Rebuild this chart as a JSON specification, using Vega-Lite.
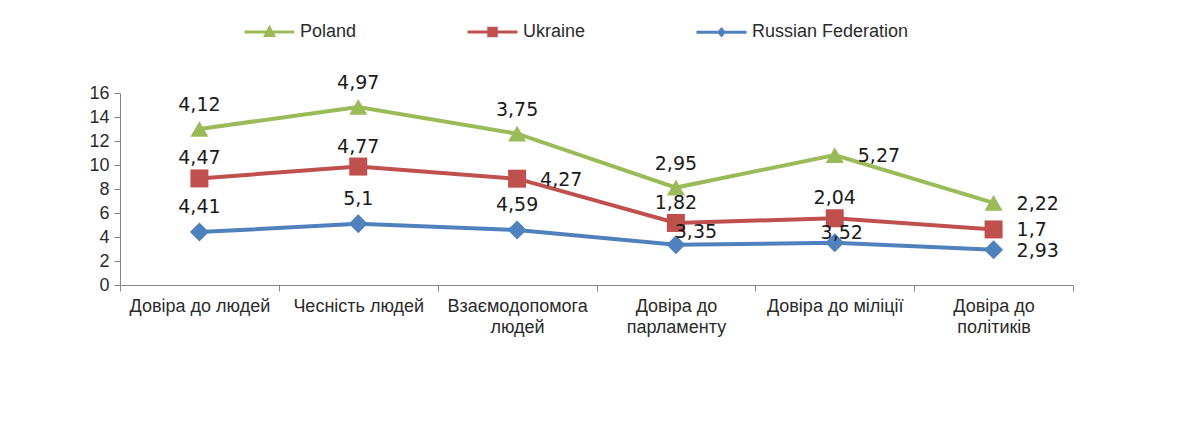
{
  "$schema": "https://vega.github.io/schema/vega-lite/v6.json",
  "autosize": "none",
  "width": 953,
  "height": 192,
  "padding": {"left": 120, "top": 93, "right": 128, "bottom": 158},
  "background": "white",
  "config": {
    "view": {"stroke": null},
    "locale": {"number": {"decimal": ",", "thousands": " ", "grouping": [3], "currency": ["", ""]}},
    "axis": {"labelFont": "Liberation Sans", "labelFontSize": 18, "labelFontWeight": "normal", "labelColor": "#2b2b2b", "domainColor": "#868686", "tickColor": "#868686", "tickSize": 6, "grid": false, "title": null}
  },
  "data": {"values": [
    {"cat": "Довіра до людей", "series": "Russian Federation", "value": 4.41},
    {"cat": "Чесність людей", "series": "Russian Federation", "value": 5.1},
    {"cat": "Взаємодопомога людей", "series": "Russian Federation", "value": 4.59},
    {"cat": "Довіра до парламенту", "series": "Russian Federation", "value": 3.35},
    {"cat": "Довіра до міліції", "series": "Russian Federation", "value": 3.52},
    {"cat": "Довіра до політиків", "series": "Russian Federation", "value": 2.93},
    {"cat": "Довіра до людей", "series": "Ukraine", "value": 4.47},
    {"cat": "Чесність людей", "series": "Ukraine", "value": 4.77},
    {"cat": "Взаємодопомога людей", "series": "Ukraine", "value": 4.27},
    {"cat": "Довіра до парламенту", "series": "Ukraine", "value": 1.82},
    {"cat": "Довіра до міліції", "series": "Ukraine", "value": 2.04},
    {"cat": "Довіра до політиків", "series": "Ukraine", "value": 1.7},
    {"cat": "Довіра до людей", "series": "Poland", "value": 4.12},
    {"cat": "Чесність людей", "series": "Poland", "value": 4.97},
    {"cat": "Взаємодопомога людей", "series": "Poland", "value": 3.75},
    {"cat": "Довіра до парламенту", "series": "Poland", "value": 2.95},
    {"cat": "Довіра до міліції", "series": "Poland", "value": 5.27},
    {"cat": "Довіра до політиків", "series": "Poland", "value": 2.22}
  ]},
  "transform": [
    {"stack": "value", "groupby": ["cat"], "as": ["y0", "y1"]}
  ],
  "encoding": {
    "x": {
      "field": "cat", "type": "nominal",
      "scale": {"type": "band", "paddingInner": 0, "paddingOuter": 0, "domain": ["Довіра до людей", "Чесність людей", "Взаємодопомога людей", "Довіра до парламенту", "Довіра до міліції", "Довіра до політиків"]},
      "axis": {"labelAngle": 0, "tickBand": "extent", "labelPadding": 6, "labelLineHeight": 21, "labelBaseline": "top", "labelLimit": 300,
        "labelExpr": "datum.label == 'Взаємодопомога людей' ? ['Взаємодопомога', 'людей'] : datum.label == 'Довіра до парламенту' ? ['Довіра до', 'парламенту'] : datum.label == 'Довіра до політиків' ? ['Довіра до', 'політиків'] : datum.label"}
    },
    "y": {
      "field": "y1", "type": "quantitative",
      "scale": {"domain": [0, 16], "nice": false, "zero": true},
      "axis": {"values": [0, 2, 4, 6, 8, 10, 12, 14, 16], "labelPadding": 5}
    },
    "color": {
      "field": "series", "type": "nominal",
      "scale": {"domain": ["Poland", "Ukraine", "Russian Federation"], "range": ["#9BBB59", "#C0504D", "#4F81BD"]},
      "legend": {
        "orient": "none", "legendX": 123, "legendY": -88, "direction": "horizontal", "columns": 3,
        "title": null, "columnPadding": 104, "labelFont": "Liberation Sans", "labelFontSize": 18, "labelFontWeight": "normal", "labelColor": "#2b2b2b",
        "labelOffset": 4, "symbolSize": 2500, "symbolStrokeWidth": 3,
        "encode": {"symbols": {"update": {
          "shape": {"signal": "datum.value == 'Poland' ? 'M-1,0H1M-0.16,0.14L0,-0.16L0.16,0.14Z' : datum.value == 'Ukraine' ? 'M-1,0H1M-0.15,-0.15H0.15V0.15H-0.15Z' : 'M-1,0H1M0,-0.12L0.1,0L0,0.12L-0.1,0Z'"},
          "size": {"value": 2500},
          "fill": {"scale": "color", "field": "value"},
          "stroke": {"scale": "color", "field": "value"},
          "strokeWidth": {"value": 3},
          "opacity": {"value": 1}
        }}}
      }
    }
  },
  "layer": [
    {"mark": {"type": "line", "strokeWidth": 4}, "encoding": {"detail": {"field": "series"}}},
    {"transform": [{"filter": {"field": "series", "equal": "Poland"}}],
     "mark": {"type": "point", "filled": true, "opacity": 1, "shape": "triangle-up", "size": 330}},
    {"transform": [{"filter": {"field": "series", "equal": "Ukraine"}}],
     "mark": {"type": "point", "filled": true, "opacity": 1, "shape": "square", "size": 324}},
    {"transform": [{"filter": {"field": "series", "equal": "Russian Federation"}}],
     "mark": {"type": "point", "filled": true, "opacity": 1, "shape": "diamond", "size": 360}},
    {"transform": [{"filter": {"and": [{"field": "series", "equal": "Poland"}, {"field": "cat", "oneOf": ["Довіра до людей", "Чесність людей", "Взаємодопомога людей", "Довіра до парламенту"]}]}}],
     "mark": {"type": "text", "font": "DejaVu Sans", "fontSize": 19, "dy": -24, "baseline": "middle"},
     "encoding": {"text": {"field": "value", "type": "quantitative", "format": "~g"}, "color": {"value": "#1a1a1a"}}},
    {"transform": [{"filter": {"and": [{"field": "series", "equal": "Ukraine"}, {"field": "cat", "oneOf": ["Довіра до людей", "Чесність людей", "Довіра до парламенту", "Довіра до міліції"]}]}}],
     "mark": {"type": "text", "font": "DejaVu Sans", "fontSize": 19, "dy": -20, "baseline": "middle"},
     "encoding": {"text": {"field": "value", "type": "quantitative", "format": "~g"}, "color": {"value": "#1a1a1a"}}},
    {"transform": [{"filter": {"and": [{"field": "series", "equal": "Russian Federation"}, {"field": "cat", "oneOf": ["Довіра до людей", "Чесність людей", "Взаємодопомога людей"]}]}}],
     "mark": {"type": "text", "font": "DejaVu Sans", "fontSize": 19, "dy": -25, "baseline": "middle"},
     "encoding": {"text": {"field": "value", "type": "quantitative", "format": "~g"}, "color": {"value": "#1a1a1a"}}},
    {"transform": [{"filter": {"or": [
        {"and": [{"field": "series", "equal": "Poland"}, {"field": "cat", "oneOf": ["Довіра до міліції", "Довіра до політиків"]}]},
        {"and": [{"field": "series", "equal": "Ukraine"}, {"field": "cat", "oneOf": ["Взаємодопомога людей", "Довіра до політиків"]}]},
        {"and": [{"field": "series", "equal": "Russian Federation"}, {"field": "cat", "equal": "Довіра до політиків"}]}
      ]}}],
     "mark": {"type": "text", "font": "DejaVu Sans", "fontSize": 19, "dx": 23, "dy": 1, "align": "left", "baseline": "middle"},
     "encoding": {"text": {"field": "value", "type": "quantitative", "format": "~g"}, "color": {"value": "#1a1a1a"}}},
    {"transform": [{"filter": {"and": [{"field": "series", "equal": "Russian Federation"}, {"field": "cat", "equal": "Довіра до парламенту"}]}}],
     "mark": {"type": "text", "font": "DejaVu Sans", "fontSize": 19, "dx": 20, "dy": -13, "baseline": "middle"},
     "encoding": {"text": {"field": "value", "type": "quantitative", "format": "~g"}, "color": {"value": "#1a1a1a"}}},
    {"transform": [{"filter": {"and": [{"field": "series", "equal": "Russian Federation"}, {"field": "cat", "equal": "Довіра до міліції"}]}}],
     "mark": {"type": "text", "font": "DejaVu Sans", "fontSize": 19, "dx": 7, "dy": -10, "baseline": "middle"},
     "encoding": {"text": {"field": "value", "type": "quantitative", "format": "~g"}, "color": {"value": "#1a1a1a"}}}
  ]
}
